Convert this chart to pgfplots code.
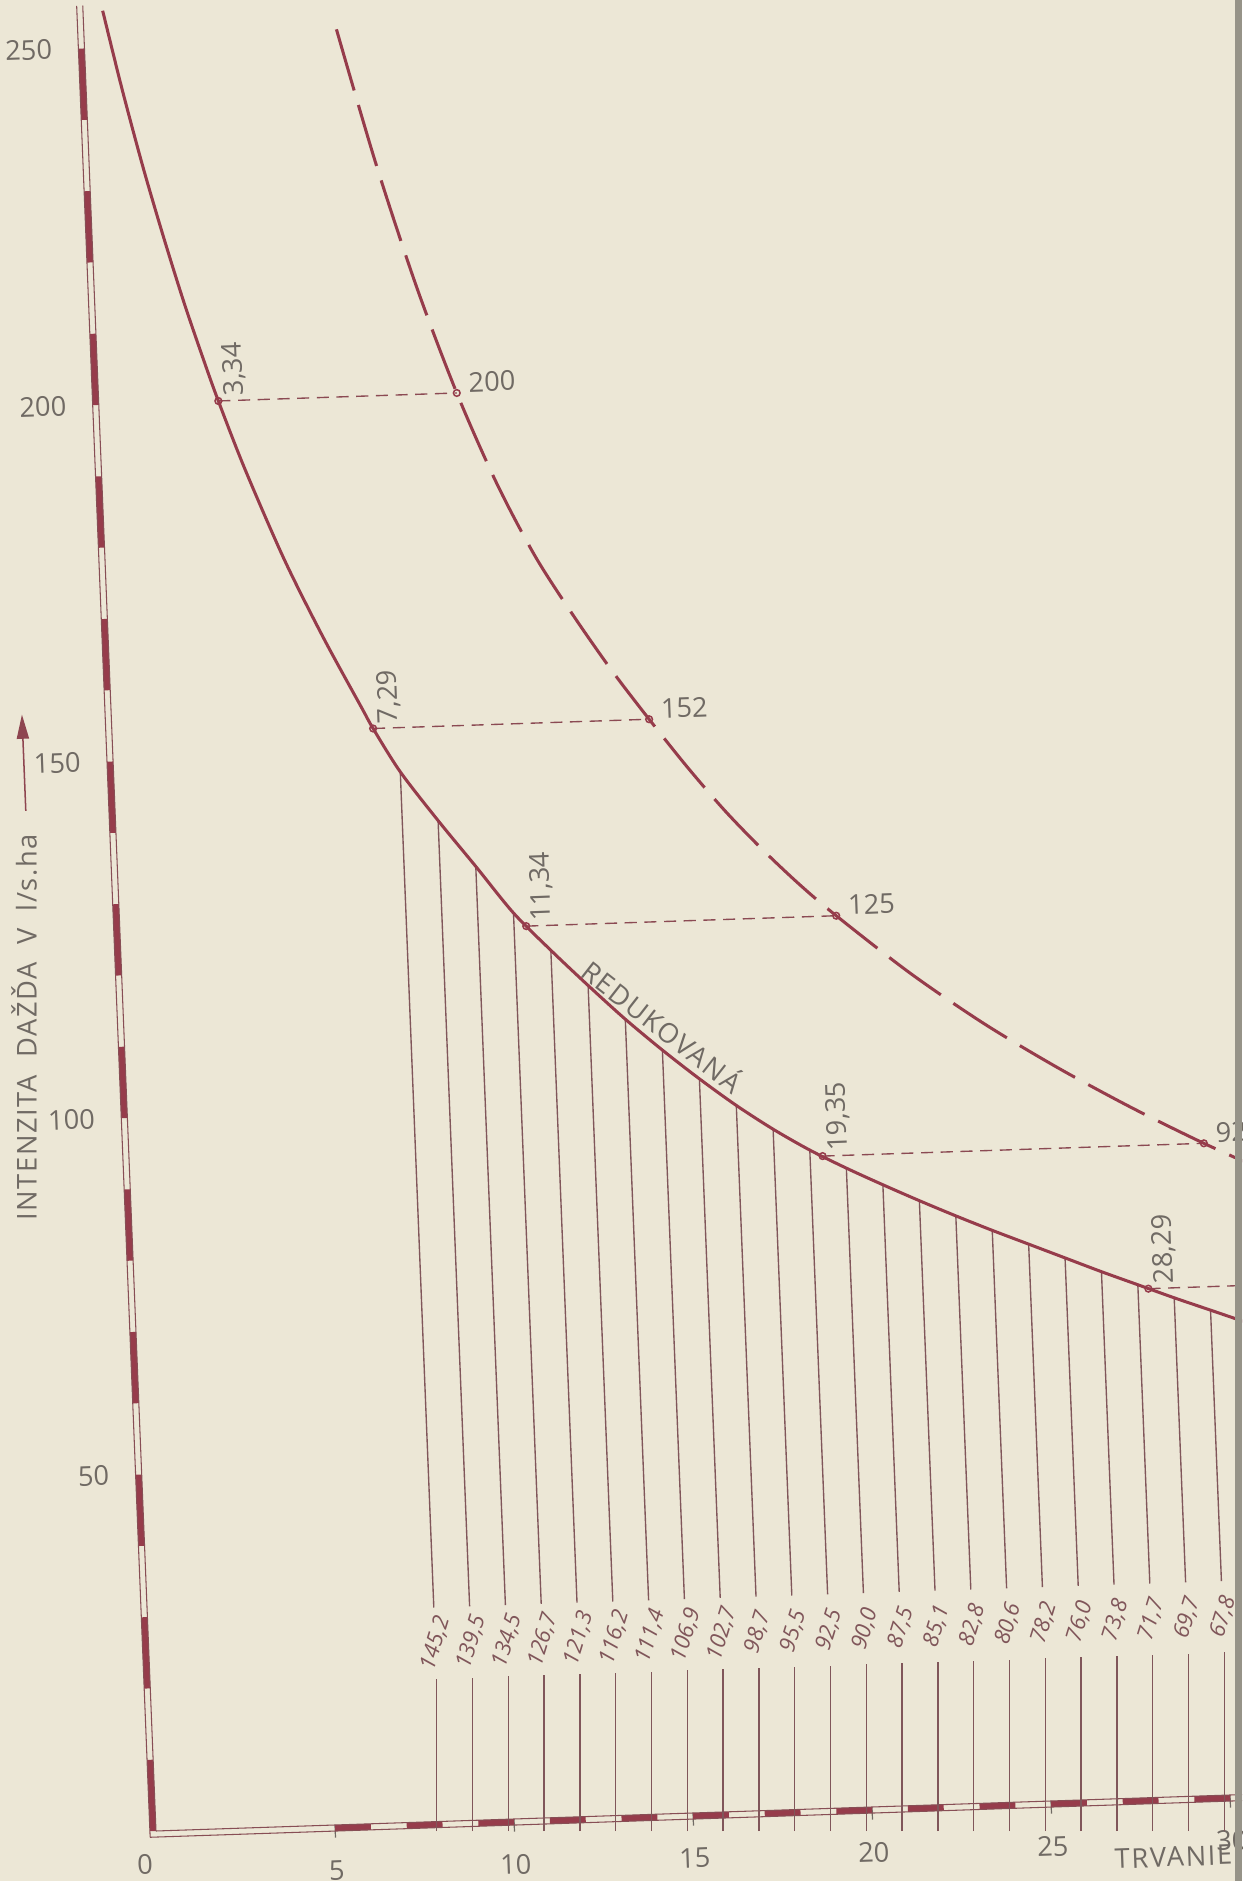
\documentclass[border=0pt]{standalone}
\usepackage{fontspec}
\setmainfont{Open Sans}
\newfontfamily\spaced{Open Sans}[LetterSpace=6]
\usepackage{pgfplots}
\usepackage{pgfplotstable}
\pgfplotsset{compat=1.18}
\usetikzlibrary{arrows.meta}

\definecolor{paper}{RGB}{236,231,214}
\definecolor{ink}{RGB}{150,60,75}
\definecolor{txt}{RGB}{112,106,100}
\definecolor{hatch}{RGB}{128,86,90}
\definecolor{edge}{RGB}{150,147,136}

% reduced curve (REDUKOVANA)
\pgfplotstableread{
t v
0.55 255.2
1 244.2
1.5 233.1
2 223.1
2.5 213.8
3 205.4
3.34 200.0
4 190.4
5 177.5
6 166.4
7 156.3
7.29 153.4
8 147.2
9 140.2
10 133.6
11 126.9
12 121.5
13 116.4
14 111.5
15 107.0
16 102.8
17 98.9
18 95.4
19 92.3
20 89.6
21 87.1
22 84.7
23 82.4
24 80.2
25 78.1
26 76.0
27 73.9
28 71.9
29 69.9
30 68.0
31 66.1
32 64.3
33 62.6
}\reduced

% original intensity curve (dashed)
\pgfplotstableread{
t v
7.05 251.5
8 232.5
9 215.0
10 200.0
11 187.3
12 176.8
13 168.3
14 160.5
15 153.4
16 146.6
17 140.3
18 134.7
19 129.6
20 125.0
22 116.6
24 109.2
26 102.7
28 96.8
30 91.4
32 86.5
34 82.1
}\original

% ordinates under the reduced curve, with their written values
\pgfplotstableread{
t   v     up    lo  hi  mid lab
8   147.2 117.2 20  30  25  145,2
9   140.2 110.2 20  30  25  139,5
10  133.6 103.6 20  30  25  134,5
11  126.9 96.9  20  30  25  126,7
12  121.5 91.5  20  30  25  121,3
13  116.4 86.4  20  30  25  116,2
14  111.5 81.5  20  30  25  111,4
15  107.0 77.0  20  30  25  106,9
16  102.8 72.8  20  30  25  102,7
17  98.9  68.9  20  30  25  98,7
18  95.4  65.4  20  30  25  95,5
19  92.3  62.3  20  30  25  92,5
20  89.6  59.6  20  30  25  90,0
21  87.1  57.1  20  30  25  87,5
22  84.7  54.7  20  30  25  85,1
23  82.4  52.4  20  30  25  82,8
24  80.2  50.2  20  30  25  80,6
25  78.1  48.1  20  30  25  78,2
26  76.0  46.0  20  30  25  76,0
27  73.9  43.9  20  30  25  73,8
28  71.9  41.9  20  30  25  71,7
29  69.9  39.9  20  30  25  69,7
30  68.0  38.0  20  30  25  67,8
}\hatchtab

\begin{document}
\begin{tikzpicture}
\fill[paper] (-51.48pt,-16.5pt) rectangle (358.38pt,604.23pt);
\path[use as bounding box] (-51.48pt,-16.5pt) rectangle (358.38pt,604.23pt);
\clip (-51.48pt,-16.5pt) rectangle (358.38pt,604.23pt);
\begin{axis}[
  at={(0pt,0pt)}, anchor=origin,
  x={(11.814pt,0.396pt)}, y={(-0.0944pt,2.3529pt)},
  xmin=0, xmax=35, ymin=0, ymax=257,
  clip=false,
  axis x line*=bottom, axis y line*=left,
  axis line style={draw=none},
  xtick={5,10,...,30},
  extra x ticks={0},
  extra x tick style={major tick length=0pt, xticklabel style={xshift=-4pt}},
  ytick={50,100,...,250},
  tick align=outside,
  major tick length=4.2pt,
  x tick style={draw=txt, line width=0.4pt},
  y tick style={draw=none},
  ticklabel style={font=\fontsize{9}{10}\selectfont, text=txt, rotate=2.1},
  xticklabel style={yshift=-4pt},
  yticklabel style={xshift=-3pt},
  /pgf/number format/assume math mode=true,
]
% scale bars along the axes
\draw[ink, line width=2pt, dash pattern=on 23.548pt off 23.548pt]
  (axis cs:-0.085,0) -- (axis cs:-0.085,250);
\draw[ink!60!txt, line width=0.35pt] (axis cs:-0.17,-0.85) -- (axis cs:-0.17,256);
\draw[ink!60!txt, line width=0.35pt] (axis cs:0,0) -- (axis cs:0,256);
\draw[ink, line width=2pt, dash pattern=on 11.8206pt off 11.8206pt]
  (axis cs:5,-0.425) -- (axis cs:35,-0.425);
\draw[ink!60!txt, line width=0.35pt] (axis cs:-0.17,-0.85) -- (axis cs:35,-0.85);
\draw[ink!60!txt, line width=0.35pt] (axis cs:0,0) -- (axis cs:35,0);

% ordinates, broken where their values are written
\addplot[hatch, line width=0.45pt, ycomb, no marks] table[x=t, y=lo]{\hatchtab};
\addplot[hatch, line width=0.45pt, no marks, quiver={u=0, v=\thisrow{up}}] table[x=t, y=hi]{\hatchtab};
\addplot[draw=none, no marks, nodes near coords, point meta=explicit symbolic,
  every node near coord/.style={anchor=center, rotate=73, inner sep=0pt,
    font=\itshape\fontsize{7.3}{8}\selectfont, text=hatch}]
  table[x=t, y=mid, meta=lab]{\hatchtab};

% horizontal links between the curves
\addplot[ink!70!txt, line width=0.45pt, dash pattern=on 4pt off 2.5pt] coordinates {(3.34,200) (10,200)};
\addplot[ink!70!txt, line width=0.45pt, dash pattern=on 4pt off 2.5pt] coordinates {(7.29,153.4) (15,153.4)};
\addplot[ink!70!txt, line width=0.45pt, dash pattern=on 4pt off 2.5pt] coordinates {(11.34,125) (20,125)};
\addplot[ink!70!txt, line width=0.45pt, dash pattern=on 4pt off 2.5pt] coordinates {(19.35,91.4) (30,91.4)};
\addplot[ink!70!txt, line width=0.45pt, dash pattern=on 4pt off 2.5pt] coordinates {(28.29,71.3) (35,71.3)};

% curves
\addplot[ink, line width=1pt, smooth, no marks] table[x=t, y=v]{\reduced};
\addplot[ink, line width=1pt, smooth, no marks, dash pattern=on 21pt off 5pt] table[x=t, y=v]{\original};

% marked points
\addplot[only marks, mark=o, mark size=1.1pt, ink, mark options={fill=paper, line width=0.5pt}]
  coordinates {(3.34,200) (7.29,153.4) (11.34,125) (19.35,91.4) (28.29,71.3)
               (10,200) (15,153.4) (20,125) (30,91.4)};

% texts
\begin{scope}[font=\fontsize{9}{10}\selectfont, text=txt, inner sep=0pt]
\node[anchor=west, xshift=5.5pt, yshift=1.5pt, rotate=92.1] at (axis cs:3.34,200) {3,34};
\node[anchor=west, xshift=5.5pt, yshift=1.5pt, rotate=92.1] at (axis cs:7.29,153.4) {7,29};
\node[anchor=west, xshift=5.5pt, yshift=1.5pt, rotate=92.1] at (axis cs:11.34,125) {11,34};
\node[anchor=west, xshift=5.5pt, yshift=1.5pt, rotate=92.1] at (axis cs:19.35,91.4) {19,35};
\node[anchor=west, xshift=5.5pt, yshift=1.5pt, rotate=92.1] at (axis cs:28.29,71.3) {28,29};
\node[anchor=west, xshift=3.7pt, yshift=3.5pt, rotate=2.1] at (axis cs:10,200) {200};
\node[anchor=west, xshift=3.7pt, yshift=3.5pt, rotate=2.1] at (axis cs:15,153.4) {152};
\node[anchor=west, xshift=3.7pt, yshift=3.5pt, rotate=2.1] at (axis cs:20,125) {125};
\node[anchor=west, xshift=3.7pt, yshift=3.5pt, rotate=2.1] at (axis cs:30,91.4) {92};
\node[rotate=-38, font=\spaced\fontsize{9}{10}\selectfont] at (axis cs:15.05,110.5) {REDUKOVANÁ};
\node[anchor=west, rotate=90, font=\spaced\fontsize{9}{10}\selectfont] at (axis cs:-3.0,86)
  {INTENZITA\ \ DAŽĎA\ \ V\ \ l/s.ha};
\node[anchor=west, rotate=2.1, font=\spaced\fontsize{9}{10}\selectfont] at (axis cs:26.7,-8)
  {TRVANIE\ \ DAŽĎA\ \ V\ \ min};
\end{scope}
\draw[ink!80!txt, line width=0.5pt, -{Triangle[length=8pt, width=4pt]}]
  (axis cs:-2.49,143.5) -- (axis cs:-2.49,157);
\end{axis}
\fill[edge] (356.1pt,-16.5pt) rectangle (358.38pt,604.23pt);
\end{tikzpicture}
\end{document}
